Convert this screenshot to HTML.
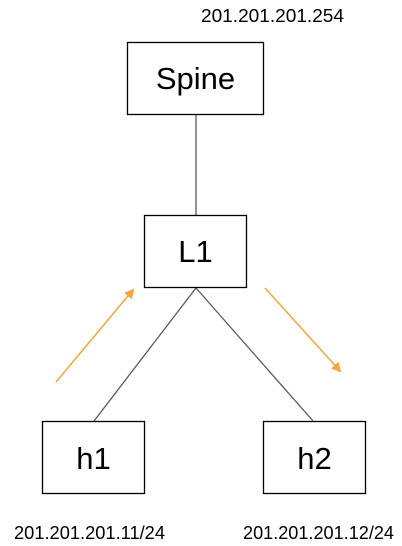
<!DOCTYPE html>
<html><head><meta charset="utf-8"><style>
html,body{margin:0;padding:0;background:#fff;width:402px;height:546px;overflow:hidden}
svg text{font-family:"Liberation Sans",Arial,sans-serif;fill:#000}
</style></head><body>
<svg width="402" height="546" viewBox="0 0 402 546" xmlns="http://www.w3.org/2000/svg">
<defs>
<marker id="a" markerWidth="10" markerHeight="10" refX="8" refY="5" orient="auto" markerUnits="userSpaceOnUse">
<path d="M0,0 L10,5 L0,10 Z" fill="#f5a73b"/>
</marker>
</defs>
<text x="201" y="22" font-size="18.3" textLength="143" lengthAdjust="spacingAndGlyphs">201.201.201.254</text>
<line x1="196" y1="114" x2="196" y2="215" stroke="#595959" stroke-width="1.3"/>
<line x1="196" y1="288" x2="94" y2="421" stroke="#595959" stroke-width="1.3"/>
<line x1="196" y1="288" x2="313" y2="421" stroke="#595959" stroke-width="1.3"/>
<rect x="127.5" y="42.5" width="136" height="72" fill="#fff" stroke="#000" stroke-width="1.3"/>
<text x="195.5" y="89" font-size="31" text-anchor="middle">Spine</text>
<rect x="144.5" y="215.5" width="102" height="72" fill="#fff" stroke="#000" stroke-width="1.3"/>
<text x="195.5" y="262" font-size="31" text-anchor="middle">L1</text>
<rect x="42.5" y="421.5" width="102" height="72" fill="#fff" stroke="#000" stroke-width="1.3"/>
<text x="93.5" y="469" font-size="31" text-anchor="middle">h1</text>
<rect x="263.5" y="421.5" width="102" height="72" fill="#fff" stroke="#000" stroke-width="1.3"/>
<text x="314.5" y="469" font-size="31" text-anchor="middle">h2</text>
<line x1="56" y1="382" x2="133" y2="290" stroke="#f5a73b" stroke-width="1.5" marker-end="url(#a)"/>
<line x1="265" y1="288" x2="340" y2="371" stroke="#f5a73b" stroke-width="1.5" marker-end="url(#a)"/>
<text x="14" y="539" font-size="18.3" textLength="151" lengthAdjust="spacingAndGlyphs">201.201.201.11/24</text>
<text x="243" y="539" font-size="18.3" textLength="151" lengthAdjust="spacingAndGlyphs">201.201.201.12/24</text>
</svg>
</body></html>
